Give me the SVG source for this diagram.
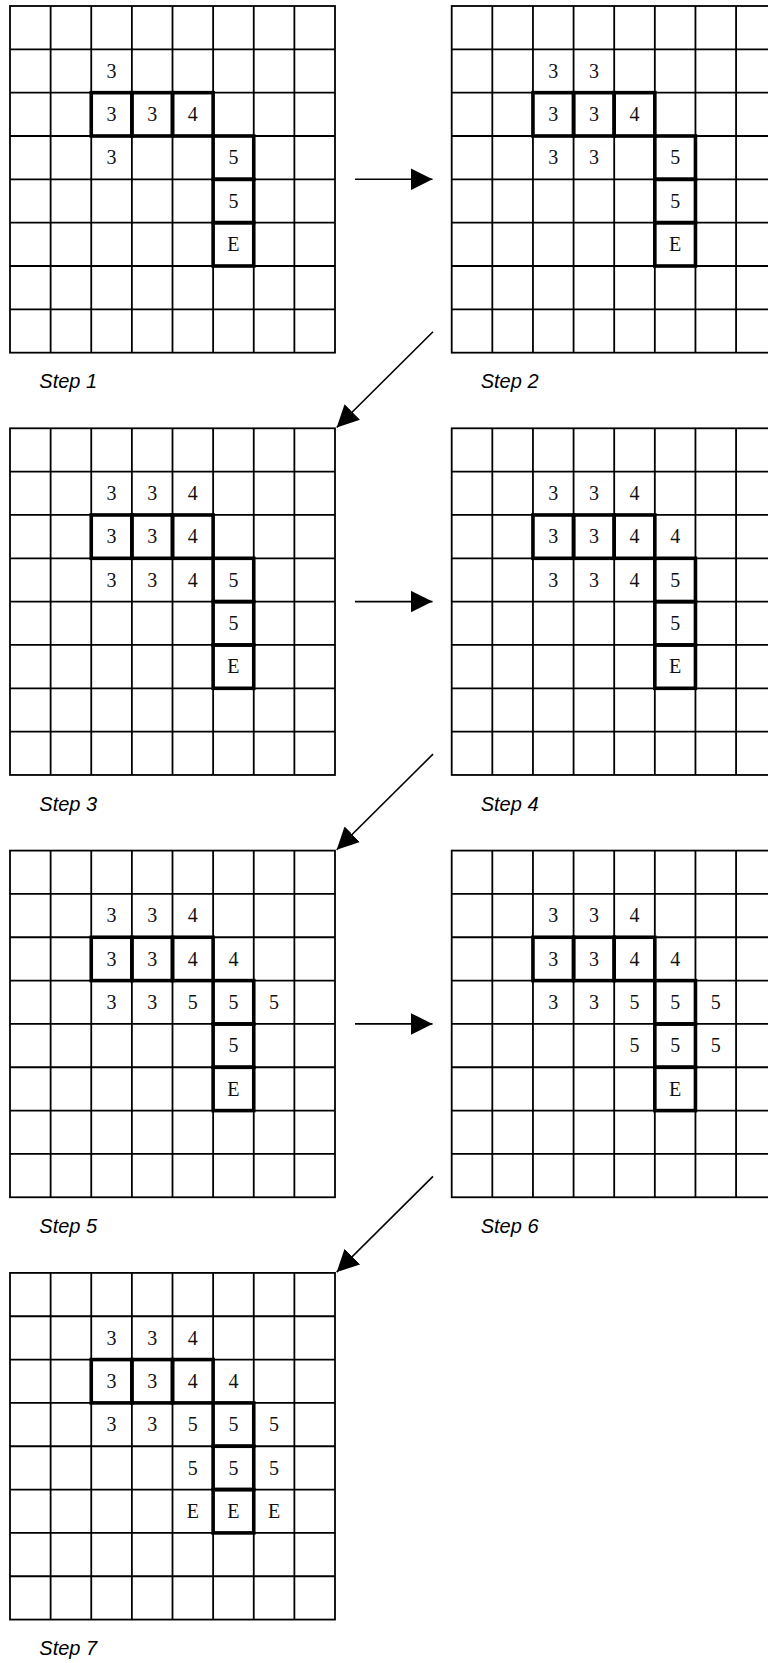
<svg xmlns="http://www.w3.org/2000/svg" xmlns:xlink="http://www.w3.org/1999/xlink" width="768" height="1663" viewBox="0 0 768 1663">
<style>
.thin{fill:none;stroke:#000;stroke-width:1.8}
.thick{fill:none;stroke:#000;stroke-width:3.6;stroke-linejoin:miter}
.num{font-family:"Liberation Serif","Times New Roman",serif;font-size:20px;fill:#111;text-anchor:middle}
.lbl{font-family:"Liberation Sans",Arial,sans-serif;font-size:20px;font-style:italic;fill:#000}
.conn{fill:none;stroke:#000;stroke-width:1.6}
</style>
<defs>
<marker id="ah" markerUnits="userSpaceOnUse" markerWidth="22" markerHeight="22" viewBox="0 0 20 20" refX="20" refY="10" orient="auto">
<path d="M0,0 L20,10 L0,20 Z" fill="#000"/>
</marker>
<g id="grid">
<rect class="thin" x="0" y="0" width="325" height="346.67"/>
<path class="thin" d="M40.625,0V346.67M81.25,0V346.67M121.875,0V346.67M162.5,0V346.67M203.125,0V346.67M243.75,0V346.67M284.375,0V346.67M0,43.33H325M0,86.67H325M0,130H325M0,173.33H325M0,216.67H325M0,260H325M0,303.33H325"/>
</g>
<g id="route">
<rect class="thick" x="81.25" y="86.67" width="40.625" height="43.33"/>
<rect class="thick" x="121.875" y="86.67" width="40.625" height="43.33"/>
<rect class="thick" x="162.5" y="86.67" width="40.625" height="43.33"/>
<rect class="thick" x="203.125" y="130" width="40.625" height="43.33"/>
<rect class="thick" x="203.125" y="173.33" width="40.625" height="43.33"/>
<rect class="thick" x="203.125" y="216.67" width="40.625" height="43.33"/>
</g>
<g id="base">
<use xlink:href="#grid"/>
<use xlink:href="#route"/>
<text class="num" x="101.56" y="71.7">3</text>
<text class="num" x="101.56" y="115">3</text>
<text class="num" x="142.19" y="115">3</text>
<text class="num" x="182.81" y="115">4</text>
<text class="num" x="101.56" y="158.4">3</text>
<text class="num" x="223.44" y="158.4">5</text>
<text class="num" x="223.44" y="201.7">5</text>
<text class="num" x="223.44" y="245">E</text>
</g>
</defs>

<g id="step1" transform="translate(10,6)">
<use xlink:href="#base"/>
<text class="lbl" x="29.3" y="382.4">Step 1</text>
</g>

<g id="step2" transform="translate(451.7,6)">
<use xlink:href="#base"/>
<text class="num" x="142.19" y="71.7">3</text>
<text class="num" x="142.19" y="158.4">3</text>
<text class="lbl" x="29" y="382.4">Step 2</text>
</g>

<g id="step3" transform="translate(10,428.3)">
<use xlink:href="#base"/>
<text class="num" x="142.19" y="71.7">3</text>
<text class="num" x="142.19" y="158.4">3</text>
<text class="num" x="182.81" y="71.7">4</text>
<text class="num" x="182.81" y="158.4">4</text>
<text class="lbl" x="29.3" y="382.4">Step 3</text>
</g>

<g id="step4" transform="translate(451.7,428.3)">
<use xlink:href="#base"/>
<text class="num" x="142.19" y="71.7">3</text>
<text class="num" x="142.19" y="158.4">3</text>
<text class="num" x="182.81" y="71.7">4</text>
<text class="num" x="182.81" y="158.4">4</text>
<text class="num" x="223.44" y="115">4</text>
<text class="lbl" x="29" y="382.4">Step 4</text>
</g>

<g id="step5" transform="translate(10,850.6)">
<use xlink:href="#base"/>
<text class="num" x="142.19" y="71.7">3</text>
<text class="num" x="142.19" y="158.4">3</text>
<text class="num" x="182.81" y="71.7">4</text>
<text class="num" x="182.81" y="158.4">5</text>
<text class="num" x="223.44" y="115">4</text>
<text class="num" x="264.06" y="158.4">5</text>
<text class="lbl" x="29.3" y="382.4">Step 5</text>
</g>

<g id="step6" transform="translate(451.7,850.6)">
<use xlink:href="#base"/>
<text class="num" x="142.19" y="71.7">3</text>
<text class="num" x="142.19" y="158.4">3</text>
<text class="num" x="182.81" y="71.7">4</text>
<text class="num" x="182.81" y="158.4">5</text>
<text class="num" x="223.44" y="115">4</text>
<text class="num" x="264.06" y="158.4">5</text>
<text class="num" x="182.81" y="201.7">5</text>
<text class="num" x="264.06" y="201.7">5</text>
<text class="lbl" x="29" y="382.4">Step 6</text>
</g>

<g id="step7" transform="translate(10,1272.9)">
<use xlink:href="#base"/>
<text class="num" x="142.19" y="71.7">3</text>
<text class="num" x="142.19" y="158.4">3</text>
<text class="num" x="182.81" y="71.7">4</text>
<text class="num" x="182.81" y="158.4">5</text>
<text class="num" x="223.44" y="115">4</text>
<text class="num" x="264.06" y="158.4">5</text>
<text class="num" x="182.81" y="201.7">5</text>
<text class="num" x="264.06" y="201.7">5</text>
<text class="num" x="182.81" y="245">E</text>
<text class="num" x="264.06" y="245">E</text>
<text class="lbl" x="29.3" y="382.4">Step 7</text>
</g>

<g id="connectors">
<line class="conn" x1="355" y1="179.3" x2="432.5" y2="179.3" marker-end="url(#ah)"/>
<line class="conn" x1="433" y1="331.8" x2="336.7" y2="427.5" marker-end="url(#ah)"/>
<line class="conn" x1="355" y1="601.6" x2="432.5" y2="601.6" marker-end="url(#ah)"/>
<line class="conn" x1="433" y1="754.1" x2="336.7" y2="849.8" marker-end="url(#ah)"/>
<line class="conn" x1="355" y1="1023.9" x2="432.5" y2="1023.9" marker-end="url(#ah)"/>
<line class="conn" x1="433" y1="1176.4" x2="336.7" y2="1272.1" marker-end="url(#ah)"/>
</g>
</svg>
